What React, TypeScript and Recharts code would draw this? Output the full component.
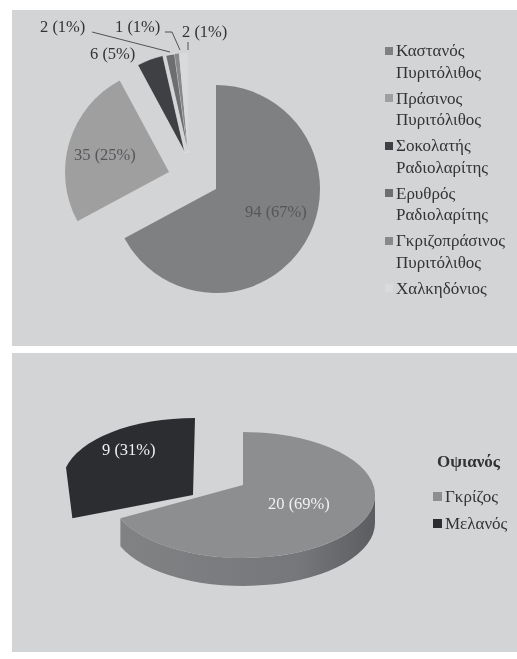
import { PieChart, Pie, Cell, Legend, Sector } from "recharts";

const rockNames = [
  "Καστανός Πυριτόλιθος",
  "Πράσινος Πυριτόλιθος",
  "Σοκολατής Ραδιολαρίτης",
  "Ερυθρός Ραδιολαρίτης",
  "Γκριζοπράσινος Πυριτόλιθος",
  "Χαλκηδόνιος",
];
const rockCounts = [94, 35, 6, 2, 1, 2];
const rockShares = ["67%", "25%", "5%", "1%", "1%", "1%"];
const rockColors = ["#7f8082", "#9f9fa0", "#3f4043", "#6d6e70", "#88898a", "#d9dadb"];

const obsidianNames = ["Γκρίζος", "Μελανός"];
const obsidianCounts = [20, 9];
const obsidianShares = ["69%", "31%"];
const obsidianColors = ["#8d8e8f", "#2c2d30"];

const FONT = "'Liberation Serif', 'Times New Roman', serif";
const PANEL = "#d3d4d5";
const NO_MARGIN = { top: 0, right: 0, bottom: 0, left: 0 };

// how far each top slice is pulled out of the pie
const rockExplode = [[0, 0], [-47, -17], [-31, -36], [-28, -36], [-28, -36], [-28, -36]];
const rockRadius = [104, 104, 100, 100, 100, 100];
// label placement relative to the pie centre, with optional leader line
const rockLabels = [
  { dx: 29, dy: 24, fill: "#55565a" },
  { dx: -142, dy: -33, fill: "#55565a" },
  { dx: -126, dy: -134, fill: "#333" },
  { dx: -176, dy: -161, fill: "#333", line: [[-124, -157], [-46, -137]] },
  { dx: -101, dy: -161, fill: "#333", line: [[-51, -157], [-44, -157], [-36, -139]] },
  { dx: -34, dy: -156, fill: "#333", line: [[-28, -147], [-28, -139]] },
];

const rockData = rockNames.map((name, i) => ({ name, value: rockCounts[i], share: rockShares[i] }));
const obsidianData = obsidianNames.map((name, i) => ({ name, value: obsidianCounts[i], share: obsidianShares[i] }));

function RockSlice(props: any) {
  const [dx, dy] = rockExplode[props.index];
  const edged = props.index === 2 || props.index === 3;
  return (
    <Sector
      {...props}
      cx={props.cx + dx}
      cy={props.cy + dy}
      outerRadius={rockRadius[props.index]}
      stroke={edged ? "#e6e6e6" : "none"}
      strokeWidth={edged ? 0.7 : 0}
    />
  );
}

function RockLabel(props: any) {
  const l = rockLabels[props.index];
  return (
    <g>
      {l.line && (
        <polyline
          points={l.line.map(([a, b]) => `${props.cx + a},${props.cy + b}`).join(" ")}
          fill="none"
          stroke="#444"
          strokeWidth={0.9}
        />
      )}
      <text
        x={props.cx + l.dx}
        y={props.cy + l.dy}
        fontSize={16.5}
        fontFamily={FONT}
        fill={l.fill}
        dominantBaseline="middle"
      >
        {`${props.value} (${props.payload.share})`}
      </text>
    </g>
  );
}

// Recharts has no 3D pie, so the tilted slices are drawn from the angles it computes
const TILT = 63 / 132;
const SIDE_DEPTH = 28;
const APEX_RISE = 10;
const PULLED_SHIFT = [-48, -14];
const PULLED_CORNER = 34;

function pt(cx: number, cy: number, r: number, deg: number) {
  const a = (deg * Math.PI) / 180;
  return [cx + r * Math.cos(a), cy - r * TILT * Math.sin(a)];
}

function ObsidianSlice(props: any) {
  const { index, outerRadius: r, startAngle, endAngle, fill } = props;
  const ry = r * TILT;

  if (index === 1) {
    // the pulled-out slice reads as one dark block with its cut faces
    const cx = props.cx + PULLED_SHIFT[0];
    const cy = props.cy + PULLED_SHIFT[1];
    const [lx, ly] = pt(cx, cy, r, startAngle);
    const [kx, ky] = pt(cx, cy, r, startAngle - PULLED_CORNER);
    const [tx, ty] = pt(cx, cy, r, endAngle);
    const d = `M${cx - 2},${cy + 14} L${tx},${ty} A${r},${ry} 0 0 0 ${kx},${ky} L${lx},${ly + 14} Z`;
    return <path d={d} fill={fill} />;
  }

  const { cx, cy } = props;
  const [sx, sy] = pt(cx, cy, r, startAngle);
  const [ex, ey] = pt(cx, cy, r, endAngle);
  const [fx, fy] = pt(cx, cy, r, 0);
  const top = `M${cx},${cy - APEX_RISE} L${sx},${sy} A${r},${ry} 0 1 1 ${ex},${ey} Z`;
  const side = `M${fx},${fy} A${r},${ry} 0 0 1 ${ex},${ey} L${ex},${ey + SIDE_DEPTH} A${r},${ry} 0 0 0 ${fx},${fy + SIDE_DEPTH} Z`;
  return (
    <g>
      <defs>
        <linearGradient id="obsidianSide" x1="0" y1="0" x2="1" y2="0">
          <stop offset="0%" stopColor="#818284" />
          <stop offset="70%" stopColor="#76777a" />
          <stop offset="100%" stopColor="#5c5d60" />
        </linearGradient>
      </defs>
      <path d={side} fill="url(#obsidianSide)" />
      <path d={top} fill={fill} />
    </g>
  );
}

const obsidianSpots = [[25, 10], [-141, -44]];

function ObsidianLabel(props: any) {
  const [dx, dy] = obsidianSpots[props.index];
  return (
    <text
      x={props.cx + dx}
      y={props.cy + dy}
      fontSize={16.5}
      fontFamily={FONT}
      fill="#f1f1f1"
      dominantBaseline="middle"
    >
      {`${props.value} (${props.payload.share})`}
    </text>
  );
}

function Swatches({ payload, title, rowGap, lineHeight, size, box }: any) {
  return (
    <div style={{ fontFamily: FONT, fontSize: size, lineHeight: `${lineHeight}px`, color: "#333" }}>
      {title && (
        <div style={{ fontWeight: 700, marginBottom: 8, paddingLeft: 4 }}>{title}</div>
      )}
      {payload.map((p: any) => (
        <div key={p.value} style={{ display: "flex", marginBottom: rowGap }}>
          <span
            style={{
              flex: "none",
              width: box,
              height: box,
              background: p.color,
              marginTop: lineHeight / 2 - box / 2,
              marginRight: 3,
            }}
          />
          <span>{p.value}</span>
        </div>
      ))}
    </div>
  );
}

export default function App() {
  return (
    <div style={{ position: "absolute", left: 0, top: 0, width: 517, height: 659, background: "#fff", filter: "blur(0.6px)" }}>
      <div style={{ position: "absolute", left: 12, top: 10, width: 505, height: 336, background: PANEL }}>
        <PieChart width={505} height={336} margin={NO_MARGIN}>
          <Pie
            data={rockData}
            dataKey="value"
            cx={204}
            cy={179}
            outerRadius={104}
            startAngle={90}
            endAngle={-270}
            shape={RockSlice}
            label={RockLabel}
            labelLine={false}
            stroke="none"
            isAnimationActive={false}
          >
            {rockData.map((d, i) => (
              <Cell key={d.name} fill={rockColors[i]} />
            ))}
          </Pie>
          <Legend
            layout="vertical"
            align="right"
            verticalAlign="top"
            itemSorter={null}
            wrapperStyle={{ left: 373, top: 30, width: 132 }}
            content={(p: any) => <Swatches {...p} rowGap={4.5} lineHeight={21.5} size={17} box={8} />}
          />
        </PieChart>
      </div>
      <div style={{ position: "absolute", left: 12, top: 353, width: 505, height: 299, background: PANEL }}>
        <PieChart width={505} height={299} margin={NO_MARGIN}>
          <Pie
            data={obsidianData}
            dataKey="value"
            cx={231}
            cy={142}
            outerRadius={132}
            startAngle={90}
            endAngle={-270}
            shape={ObsidianSlice}
            label={ObsidianLabel}
            labelLine={false}
            stroke="none"
            isAnimationActive={false}
          >
            {obsidianData.map((d, i) => (
              <Cell key={d.name} fill={obsidianColors[i]} />
            ))}
          </Pie>
          <Legend
            layout="vertical"
            align="right"
            verticalAlign="top"
            itemSorter={null}
            wrapperStyle={{ left: 421, top: 95, width: 84 }}
            content={(p: any) => <Swatches {...p} title="Οψιανός" rowGap={0} lineHeight={27} size={17} box={9} />}
          />
        </PieChart>
      </div>
    </div>
  );
}
